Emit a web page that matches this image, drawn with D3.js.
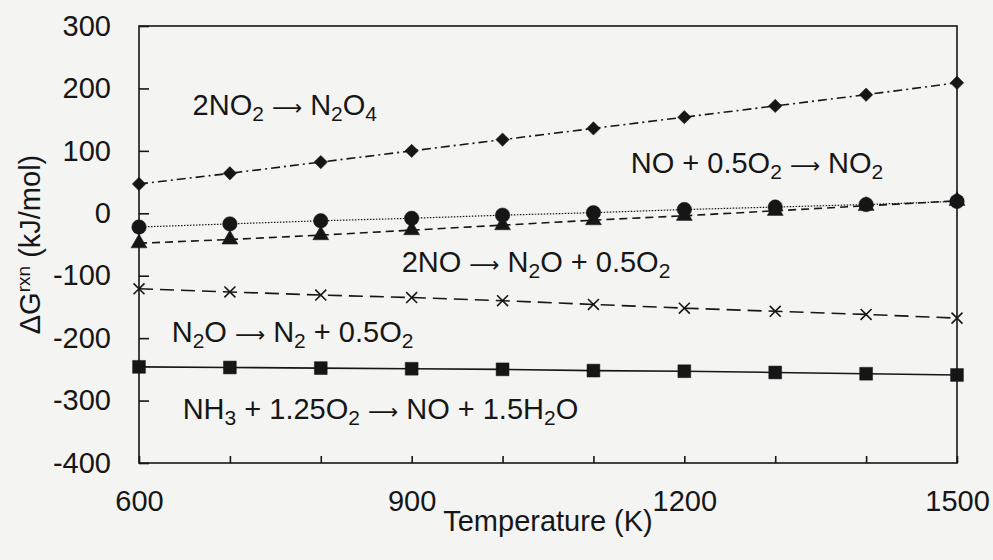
<!DOCTYPE html>
<html>
    <head>
        <meta charset="UTF-8">
        <title>Delta G vs Temperature</title>
        <style>
            body { margin: 0; background: #f4f4f3; }
            svg { display: block; font-family: "Liberation Sans", Arial, sans-serif; }
        </style>
    </head>
    <body>
        <script src="https://d3js.org/d3.v7.min.js"></script>
        <svg></svg>
        <script>
            // temperatures (K)
            let temps = [600, 700, 800, 900, 1000, 1100, 1200, 1300, 1400, 1500];

            // ΔG rxn values (kJ/mol)
            let no2ToN2o4 = [47, 64, 82, 100, 118, 136, 154, 172, 190, 209];
            let noToNo2 = [-22, -17, -12, -8, -3, 1, 6, 10, 14, 19];
            let noToN2o = [-48, -42, -35, -27, -19, -11, -4, 4, 12, 20];
            let n2oToN2 = [-121, -126, -131, -135, -140, -146, -152, -157, -162, -168];
            let nh3ToNo = [-246, -247, -248, -249, -250, -252, -253, -255, -257, -259];

            let xTickLabels = [600, 900, 1200, 1500];
            let yTickLabels = [-400, -300, -200, -100, 0, 100, 200, 300];

            // "_2" means subscript 2
            let labels = [
                {text: "2NO_2 → N_2O_4", t: 659, v: 157},
                {text: "NO + 0.5O_2 → NO_2", t: 1141, v: 64},
                {text: "2NO → N_2O + 0.5O_2", t: 889, v: -94},
                {text: "N_2O → N_2 + 0.5O_2", t: 636, v: -206},
                {text: "NH_3 + 1.25O_2 → NO + 1.5H_2O", t: 648, v: -330}
            ];

            let margin = {top: 26, right: 36, bottom: 97, left: 139},
                width = 993 - margin.left - margin.right,
                height = 560 - margin.top - margin.bottom;

            let svg = d3.select("svg")
                .attr("width", 993)
                .attr("height", 560);

            let chart = svg.append("g")
                .attr("transform", "translate(" + margin.left + "," + margin.top + ")");

            let xScale = d3.scaleLinear()
                .domain([600, 1500])
                .range([0, width]);
            let yScale = d3.scaleLinear()
                .domain([-400, 300])
                .range([height, 0]);

            let ink = "#161616";

            // x-shaped marker
            let symbolXMark = {
                draw(context, size) {
                    let r = Math.sqrt(size) / 2;
                    context.moveTo(-r, -r);
                    context.lineTo(r, r);
                    context.moveTo(r, -r);
                    context.lineTo(-r, r);
                }
            };

            let series = [
                {values: nh3ToNo, dash: null, symbol: d3.symbolSquare, size: 165, rotate: 0, filled: true},
                {values: n2oToN2, dash: "14,7", symbol: symbolXMark, size: 120, rotate: 0, filled: false},
                {values: noToN2o, dash: "8,5", symbol: d3.symbolTriangle, size: 110, rotate: 0, filled: true},
                {values: noToNo2, dash: "1.5,1.5", symbol: d3.symbolCircle, size: 165, rotate: 0, filled: true},
                {values: no2ToN2o4, dash: "9,4,2,4", symbol: d3.symbolSquare, size: 90, rotate: 45, filled: true}
            ];

            let line = d3.line()
                .x(d => xScale(d.t))
                .y(d => yScale(d.v));

            series.forEach(s => {
                let pts = temps.map((t, i) => ({t: t, v: s.values[i]}));

                chart.append("path")
                    .datum(pts)
                    .attr("d", line)
                    .attr("fill", "none")
                    .attr("stroke", ink)
                    .attr("stroke-width", s.dash === "1.5,1.5" ? 1.2 : 1.6)
                    .attr("stroke-dasharray", s.dash);

                chart.selectAll(null)
                    .data(pts)
                    .enter()
                    .append("path")
                    .attr("d", d3.symbol().type(s.symbol).size(s.size))
                    .attr("transform", d => "translate(" + xScale(d.t) + "," + yScale(d.v) + ") rotate(" + s.rotate + ")")
                    .attr("fill", s.filled ? ink : "none")
                    .attr("stroke", ink)
                    .attr("stroke-width", s.filled ? 0.5 : 1.6);
            });

            // frame
            chart.append("rect")
                .attr("width", width)
                .attr("height", height)
                .attr("fill", "none")
                .attr("stroke", ink)
                .attr("stroke-width", 1.6);

            // axes, ticks pointing inward
            let xAxis = chart.append("g")
                .attr("transform", "translate(0," + height + ")")
                .call(d3.axisBottom(xScale)
                    .tickValues(temps)
                    .tickSizeInner(-7)
                    .tickSizeOuter(0)
                    .tickPadding(27)
                    .tickFormat(d => xTickLabels.includes(d) ? d : ""));

            let yAxis = chart.append("g")
                .call(d3.axisLeft(yScale)
                    .tickValues(yTickLabels)
                    .tickSizeInner(-10)
                    .tickSizeOuter(0)
                    .tickPadding(28)
                    .tickFormat(d => d));

            [xAxis, yAxis].forEach(a => {
                a.select(".domain").remove();
                a.selectAll(".tick line").attr("stroke", ink).attr("stroke-width", 1.6);
                a.selectAll(".tick text")
                    .attr("fill", ink)
                    .style("font-size", "29px")
                    .style("font-family", "'Liberation Sans', Arial, sans-serif");
            });
            // drop the empty minor-tick labels
            xAxis.selectAll(".tick text").filter(d => !xTickLabels.includes(d)).remove();

            // reaction labels with subscripts
            labels.forEach(l => {
                let txt = chart.append("text")
                    .attr("x", xScale(l.t))
                    .attr("y", yScale(l.v))
                    .attr("fill", ink)
                    .style("font-size", "29px");
                let parts = l.text.split(/(_\d|→)/).filter(p => p.length);
                let shift = 0;
                parts.forEach(p => {
                    let span = txt.append("tspan");
                    if (p[0] === "_") {
                        span.attr("font-size", "21px").attr("dy", 6 + shift).text(p.slice(1));
                        shift = -6;
                        return;
                    }
                    if (shift) span.attr("dy", shift);
                    shift = 0;
                    if (p === "→") {
                        // long thin arrow as in the original
                        span.style("font-family", "'DejaVu Sans', sans-serif")
                            .attr("font-size", "21px")
                            .text("\u27F6");
                    } else {
                        span.text(p);
                    }
                });
            });

            // axis titles
            chart.append("text")
                .attr("x", width / 2)
                .attr("y", height + 68)
                .attr("text-anchor", "middle")
                .attr("fill", ink)
                .style("font-size", "29px")
                .text("Temperature (K)");

            let yTitle = chart.append("text")
                .attr("transform", "translate(" + (-99) + "," + (height / 2) + ") rotate(-90)")
                .attr("text-anchor", "middle")
                .attr("fill", ink)
                .style("font-size", "29px");
            yTitle.append("tspan").text("ΔG");
            yTitle.append("tspan").attr("font-size", "19px").attr("dy", -10).text("rxn");
            yTitle.append("tspan").attr("dy", 10).text(" (kJ/mol)");
        </script>
    </body>
</html>
